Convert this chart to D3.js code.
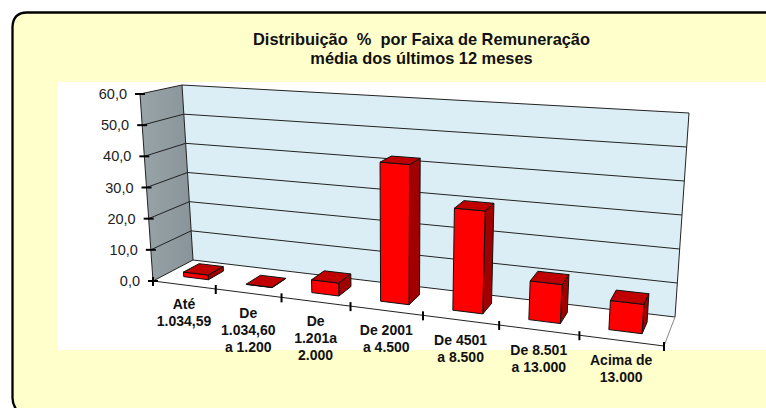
<!DOCTYPE html>
<html><head><meta charset="utf-8">
<script src="https://cdn.jsdelivr.net/npm/d3@7/dist/d3.min.js"></script>
<style>html,body{margin:0;padding:0;background:#fff}svg{display:block}text{font-family:"Liberation Sans",Arial,sans-serif}</style>
</head><body><svg id="c" width="766" height="408"></svg>
<script>
const categories = [["Até","1.034,59"],["De","1.034,60","a 1.200"],["De","1.201a","2.000"],["De 2001","a 4.500"],["De 4501","a 8.500"],["De 8.501","a 13.000"],["Acima de","13.000"]];
const values = [1.5, 0.1, 4, 42.5, 30.5, 11.3, 8.3];
const yTicks = [0,10,20,30,40,50,60];
const titleLines = ["Distribuição  %  por Faixa de Remuneração","média dos últimos 12 meses"];

const W=766,H=408;
const svg=d3.select("#c");
// projection box corners [x,y] : f=front b=back, l/r, 0/1 = bottom/top
const box={fl0:[153,281],fl1:[140,94],fr0:[664,346],fr1:[679,128],bl0:[193,260],bl1:[182,85],br0:[675,317],br1:[689,113]};
const wL=1/187,wR=1/222.6,wBL=1/175,wBR=1/208;
const yS=d3.scaleLinear().domain([0,60]).range([0,1]);
const xB=d3.scaleBand().domain(d3.range(categories.length)).range([0,1]).paddingInner(.6).paddingOuter(.3);
const step=xB.step();
function P(u,v,d){
  const c=[[box.fl0,box.fl1,wL,0,0],[box.fr0,box.fr1,wR,1,0],[box.bl0,box.bl1,wBL,0,1],[box.br0,box.br1,wBR,1,1]];
  let X=0,Y=0,Wt=0;
  c.forEach(([p0,p1,w,cu,cd])=>{
    const k=(cu?u:1-u)*(cd?d:1-d)*w;
    X+=k*(p0[0]+(p1[0]-p0[0])*v);
    Y+=k*(p0[1]+(p1[1]-p0[1])*v);
    Wt+=k;
  });
  return [X/Wt,Y/Wt];
}
const poly=pts=>"M"+pts.map(p=>p.map(n=>n.toFixed(2)).join(",")).join("L")+"Z";
const defs=svg.append("defs");
const g1=defs.append("linearGradient").attr("id","side").attr("x1",0).attr("x2",1).attr("y1",0).attr("y2",0);
g1.append("stop").attr("offset",0).attr("stop-color","#98a4a8");
g1.append("stop").attr("offset",1).attr("stop-color","#889499");

// panel
svg.append("path").attr("d",`M${W+4},12.5 H27 Q13,12.5 12.5,27 V398 Q12.5,404 16,${H+4} H${W+4} Z`).attr("fill","#ffffcc").attr("stroke","none");
svg.append("path").attr("d",`M${W+2},12.5 H27 Q13,12.5 12.5,27 V398 Q12.5,404 16,${H+1}`).attr("fill","none").attr("stroke","#000").attr("stroke-width",2.3);
svg.append("rect").attr("x",58).attr("y",82).attr("width",W-58).attr("height",264+4).attr("fill","#fff");

// title
svg.append("g").selectAll("text").data(titleLines).join("text")
 .attr("x",421.5).attr("y",(d,i)=>45+i*19).attr("text-anchor","middle")
 .attr("font-size",16.4).attr("font-weight","bold").attr("fill","#111").style("white-space","pre").text(d=>d);

// walls
svg.append("path").attr("d",poly([P(0,0,1),P(0,1,1),P(1,1,1),P(1,0,1)])).attr("fill","#dceef5").attr("stroke","none");
svg.append("path").attr("d",poly([P(0,0,0),P(0,1,0),P(0,1,1),P(0,0,1)])).attr("fill","url(#side)").attr("stroke","none");
// gridlines
svg.append("g").selectAll("path").data(yTicks).join("path")
 .attr("d",t=>{const v=yS(t);return "M"+P(0,v,0)+"L"+P(0,v,1)+"L"+P(1,v,1);})
 .attr("fill","none").attr("stroke","#222").attr("stroke-width",1);
// wall edges
const edge=(a,b,c="#222",w=1)=>svg.append("path").attr("d","M"+a+"L"+b).attr("stroke",c).attr("stroke-width",w).attr("fill","none");
edge(P(0,0,1),P(0,1,1));
edge(P(1,0,1),P(1,1,1));
edge(P(0,1,0),P(0,0,0));
edge(P(0,0,0),P(1,0,0));
edge(P(1,0,0),P(1,0,1),"#888");

// ticks
const ty=svg.append("g");
yTicks.forEach(t=>{
  const p=P(0,yS(t),0);
  ty.append("line").attr("x1",p[0]-5).attr("x2",p[0]+5).attr("y1",p[1]).attr("y2",p[1]).attr("stroke","#000").attr("stroke-width",2);
  ty.append("text").attr("x",p[0]-13).attr("y",p[1]+5).attr("text-anchor","end").attr("font-size",14.5).attr("fill","#222").text(d3.format(".1f")(t).replace(".",","));
});
const tx=svg.append("g");
d3.range(categories.length+1).forEach(i=>{
  const p=P(i*step,0,0);
  tx.append("line").attr("x1",p[0]).attr("x2",p[0]).attr("y1",p[1]-4).attr("y2",p[1]+5).attr("stroke","#000").attr("stroke-width",2);
});

// bars
const d0=.3,d1=.7;
const gb=svg.append("g").attr("stroke","#111").attr("stroke-width",1).attr("stroke-linejoin","round");
values.forEach((val,i)=>{
  const u0=xB(i),u1=u0+xB.bandwidth(),v=yS(val);
  gb.append("path").attr("d",poly([P(u1,0,d0),P(u1,v,d0),P(u1,v,d1),P(u1,0,d1)])).attr("fill","#a00000");
  gb.append("path").attr("d",poly([P(u0,0,d0),P(u0,v,d0),P(u1,v,d0),P(u1,0,d0)])).attr("fill","#ff0000");
  gb.append("path").attr("d",poly([P(u0,v,d0),P(u0,v,d1),P(u1,v,d1),P(u1,v,d0)])).attr("fill","#c00000");
});

// category labels
const gl=svg.append("g");
categories.forEach((lines,i)=>{
  const p=P(xB(i)+xB.bandwidth()/2,0,0);
  gl.append("g").selectAll("text").data(lines).join("text")
   .attr("x",p[0]).attr("y",(d,j)=>p[1]+24.5+j*17).attr("text-anchor","middle")
   .attr("font-size",14).attr("font-weight","bold").attr("fill","#111").text(d=>d);
});
</script></body></html>
